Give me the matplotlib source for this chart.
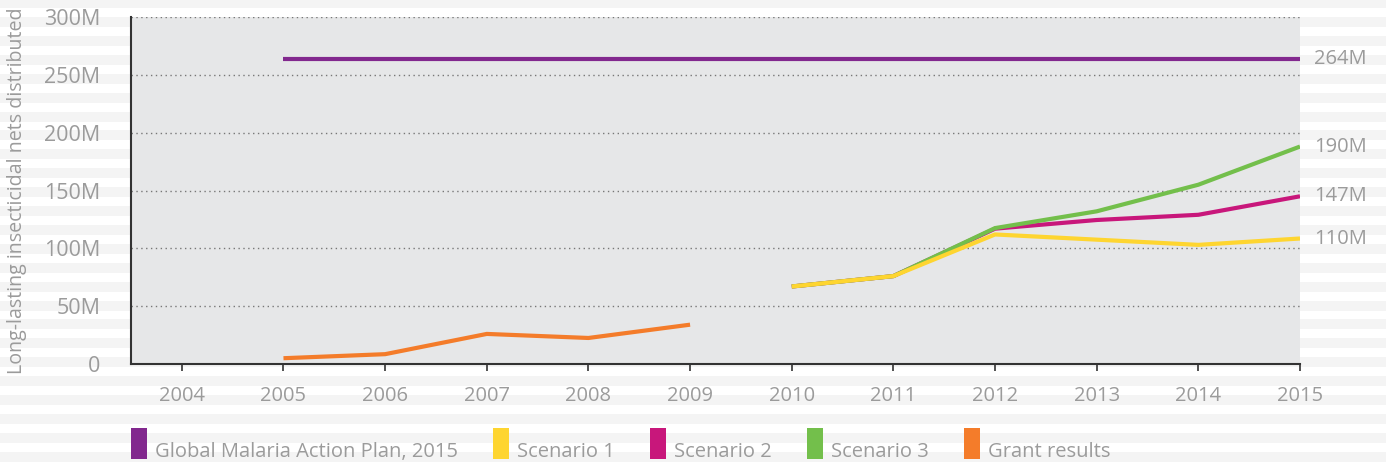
import matplotlib.pyplot as plt
from matplotlib.patches import Rectangle

gmap_years = [2005, 2015]
gmap = [264, 264]
grant_years = [2005, 2006, 2007, 2008, 2009]
grant = [5, 8.5, 26, 22.5, 34]
scen_years = [2010, 2011, 2012, 2013, 2014, 2015]
scenario1 = [67, 76, 112, 107.5, 103, 108.5]
scenario2 = [67, 76, 117, 124.5, 129, 145]
scenario3 = [67, 76, 117.5, 132, 155, 188]
end_labels = ["264M", "190M", "147M", "110M"]
end_values = [264, 188, 145, 108.5]
xtick_years = list(range(2004, 2016))
ytick_values = [0, 50, 100, 150, 200, 250, 300]
ytick_labels = ["0", "50M", "100M", "150M", "200M", "250M", "300M"]
legend_labels = ["Global Malaria Action Plan, 2015", "Scenario 1", "Scenario 2", "Scenario 3", "Grant results"]

PURPLE = "#82288e"
YELLOW = "#fed530"
MAGENTA = "#c8177b"
GREEN = "#73bf4b"
ORANGE = "#f47c2a"
TEXT = "#9b9b9b"
legend_colors = [PURPLE, YELLOW, MAGENTA, GREEN, ORANGE]

plt.rcParams['font.family'] = ['Open Sans', 'DejaVu Sans']

W, H = 1386, 466
fig = plt.figure(figsize=(W / 100, H / 100), dpi=100)
fig.patch.set_facecolor("white")

# striped page background
period = 18.9
y = -1.9
while y < H:
    fig.add_artist(Rectangle((0, 1 - (y + 10) / H), 1, 10 / H, transform=fig.transFigure,
                             facecolor="#f4f4f4", edgecolor="none", zorder=-10))
    y += period

ax = fig.add_axes([131 / W, 1 - 364 / H, (1300 - 131) / W, (364 - 17) / H])
ax.set_facecolor("#e6e7e8")

ax.plot(gmap_years, gmap, color=PURPLE, lw=3, solid_capstyle="butt", zorder=3)
ax.plot(grant_years, grant, color=ORANGE, lw=3, solid_capstyle="butt", zorder=3)
ax.plot(scen_years, scenario2, color=MAGENTA, lw=3, solid_capstyle="butt", zorder=3)
ax.plot(scen_years, scenario3, color=GREEN, lw=3, solid_capstyle="butt", zorder=4)
ax.plot(scen_years, scenario1, color=YELLOW, lw=3, solid_capstyle="butt", zorder=5)

for label, value in zip(end_labels, end_values):
    ax.annotate(label, xy=(2015, value), xytext=(10, 0), textcoords="offset points",
                va="center", ha="left", color=TEXT, fontsize=14.5, annotation_clip=False)

ax.set_xlim(2003.5, 2015)
ax.set_ylim(0, 300)
ax.set_xticks(xtick_years)
ax.set_xticklabels([str(yr) for yr in xtick_years])
ax.set_yticks(ytick_values)
ax.set_yticklabels(ytick_labels)
ax.tick_params(axis="x", direction="out", length=5, width=1.2, color="#333333",
               pad=11, labelsize=14.5, labelcolor=TEXT)
ax.tick_params(axis="y", length=0, pad=22, labelsize=15.5, labelcolor=TEXT)

ax.grid(axis="y", color="#777777", linestyle=(0, (1, 2.5)), lw=1)
ax.set_axisbelow(True)
for side in ["top", "right"]:
    ax.spines[side].set_visible(False)
for side in ["left", "bottom"]:
    ax.spines[side].set_color("#333333")
    ax.spines[side].set_linewidth(1.5)

fig.text(17 / W, 1 - 191 / H, "Long-lasting insecticidal nets distributed", rotation=90,
         ha="center", va="center", color=TEXT, fontsize=14.1)

# legend: tall colour swatches with the label sitting at their bottom
renderer = fig.canvas.get_renderer()
x = 131
for color, label in zip(legend_colors, legend_labels):
    fig.add_artist(Rectangle((x / W, 1 - 459 / H), 16 / W, 31 / H, transform=fig.transFigure,
                             facecolor=color, edgecolor="none"))
    t = fig.text((x + 24) / W, 1 - 457 / H, label, ha="left", va="baseline",
                 color=TEXT, fontsize=14.5)
    x = t.get_window_extent(renderer).x1 + 35

fig.savefig("out.png", dpi=100)
